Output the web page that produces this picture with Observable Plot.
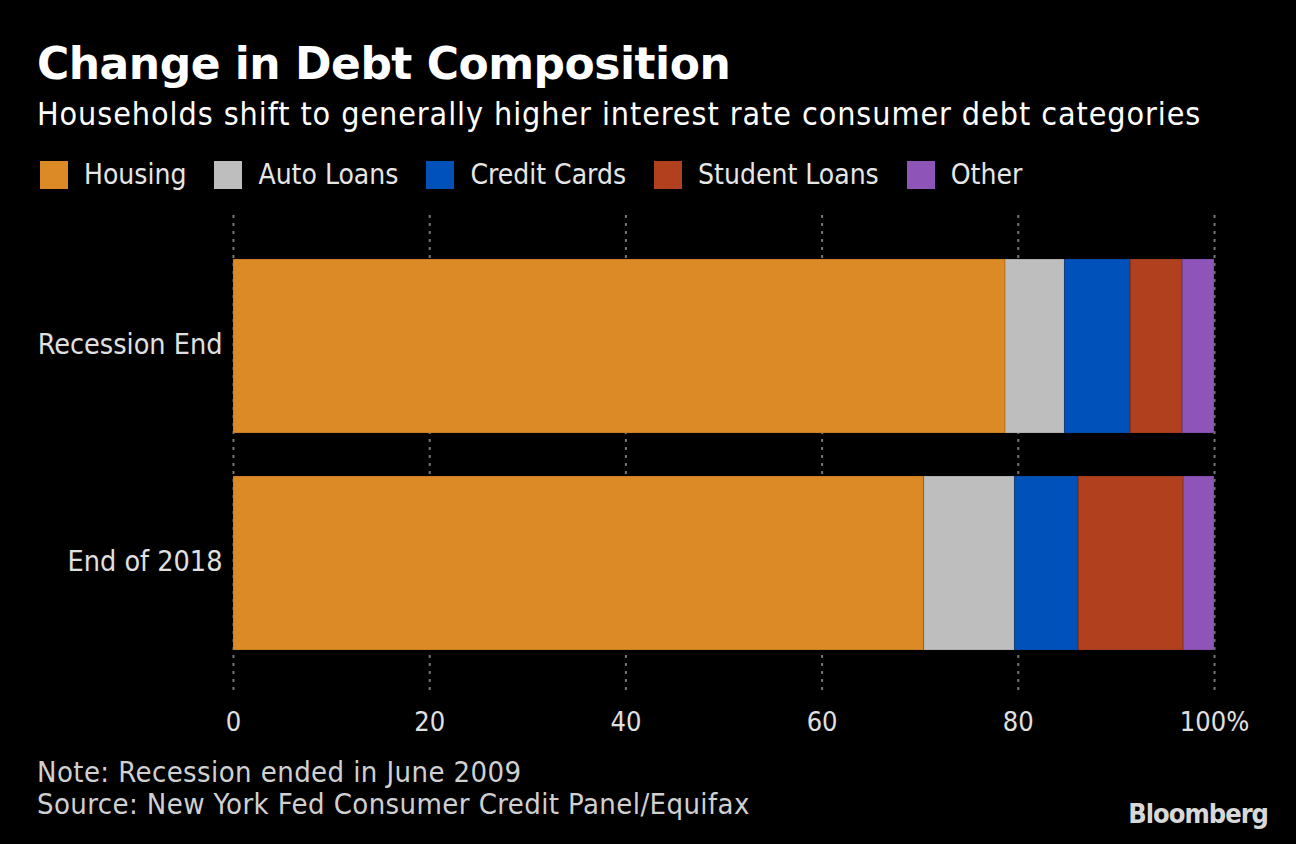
<!DOCTYPE html>
<html>
<head>
<meta charset="utf-8">
<script src="https://cdn.jsdelivr.net/npm/d3@7"></script>
<script src="https://cdn.jsdelivr.net/npm/@observablehq/plot@0.6"></script>
<style>
  body { margin: 0; background: #000; width: 1296px; height: 844px; overflow: hidden; position: relative;
         font-family: "DejaVu Sans Condensed", "Liberation Sans Narrow", Roboto, sans-serif; color: #e6e6e6; }
  #title { position: absolute; left: 37px; top: 38px; font: bold 44px "DejaVu Sans", sans-serif; letter-spacing: -0.5px; color: #fff; }
  #subtitle { position: absolute; left: 37px; top: 95px; font-size: 32px; letter-spacing: 0.92px; color: #fff; }
  #legend { position: absolute; left: 40px; top: 158px; display: flex; font-size: 28px; }
  .item { display: flex; align-items: center; margin-right: 28px; }
  .sw { width: 28px; height: 28px; margin-right: 16px; }
  #chart { position: absolute; left: 0; top: 205px; }
  #note { position: absolute; left: 37px; top: 756px; font-size: 29px; letter-spacing: 0.4px; line-height: 32px; color: #d0d0d0; }
  #logo { position: absolute; right: 28px; top: 798px; font: bold 27px "DejaVu Sans Condensed", sans-serif; color: #d8d8d8; letter-spacing: -1px; }
</style>
</head>
<body>
<div id="title">Change in Debt Composition</div>
<div id="subtitle">Households shift to generally higher interest rate consumer debt categories</div>
<div id="legend"></div>
<div id="chart"></div>
<div id="note">Note: Recession ended in June 2009<br>Source: New York Fed Consumer Credit Panel/Equifax</div>
<div id="logo">Bloomberg</div>
<script>
var periods = ["Recession End", "End of 2018"]
var categories = ["Housing", "Auto Loans", "Credit Cards", "Student Loans", "Other"]
var colors = ["#dc8a26", "#bebebe", "#0052ba", "#b0401e", "#8e54b8"]
var recessionEnd = [78.7, 6.05, 6.7, 5.3, 3.25]
var end2018 = [70.4, 9.25, 6.5, 10.7, 3.15]
var xTicks = [0, 20, 40, 60, 80, 100]

var data = []
categories.forEach((c, i) => {
  data.push({period: periods[0], category: c, share: recessionEnd[i]})
  data.push({period: periods[1], category: c, share: end2018[i]})
})

d3.select("#legend").selectAll("div").data(categories).join("div")
  .attr("class", "item")
  .html((d, i) => `<div class="sw" style="background:${colors[i]}"></div><span>${d}</span>`)

var chart = Plot.plot({
  width: 1296,
  height: 545,
  marginLeft: 233,
  marginRight: 82,
  marginTop: 10,
  marginBottom: 57,
  style: {background: "#000", color: "#e0e0e0", fontSize: "27px", fontFamily: "DejaVu Sans Condensed, Liberation Sans Narrow, Roboto, sans-serif"},
  x: {domain: [0, 100], label: null},
  y: {domain: periods, padding: 0.2, label: null},
  color: {domain: categories, range: colors},
  marks: [
    Plot.ruleX(xTicks, {stroke: "#777", strokeWidth: 2, strokeDasharray: "3,5"}),
    Plot.barX(data, Plot.stackX({y: "period", x: "share", fill: "category", order: categories,
      stroke: "#000", strokeOpacity: 0.15, strokeWidth: 1})),
    Plot.axisX({ticks: xTicks, tickSize: 0, tickPadding: 18, fontSize: 27, label: null,
      tickFormat: d => d === 100 ? "100%" : d}),
    Plot.axisY({tickSize: 0, tickPadding: 11, fontSize: 28.5, dy: -2, label: null})
  ]
})
d3.select("#chart").append(() => chart)
</script>
</body>
</html>
